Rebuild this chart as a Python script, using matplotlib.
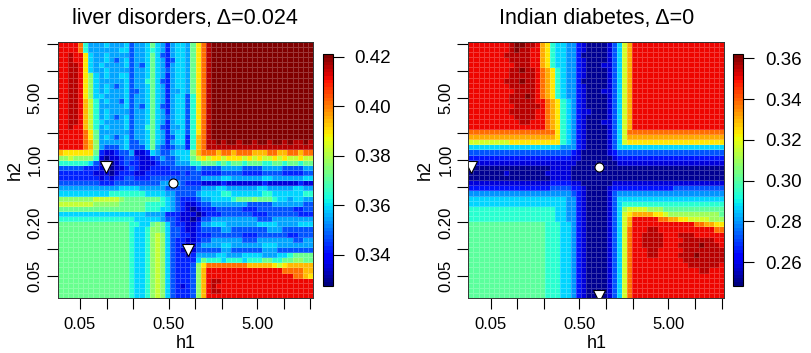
"""Two bandwidth-grid heatmaps (h1 vs h2) with jet colour scale."""

import numpy as np
import matplotlib

matplotlib.use("Agg")
import matplotlib.pyplot as plt
from matplotlib.ticker import NullLocator

plt.rcParams["font.family"] = ["Liberation Sans", "DejaVu Sans"]

# bandwidth grid: 50 log-spaced values from 0.03 to 20 on both axes
H_MIN, H_MAX, N_GRID = 0.03, 20.0, 50

TICK_POS = [0.05, 0.1, 0.2, 0.5, 1, 2, 5, 10, 20]
X_TICK_LABELS = ["0.05", "", "", "0.50", "", "", "5.00", "", ""]
Y_TICK_LABELS = ["0.05", "", "0.20", "", "1.00", "", "5.00", "", ""]

# ---- liver disorders ----
LIVER_TITLE = "liver disorders, \u0394=0.024"
LIVER_ZLIM = [0.3276, 0.4210]
LIVER_CBAR_TICKS = [0.34, 0.36, 0.38, 0.40, 0.42]
# value of each hex code 0..F
LIVER_LEVELS = [0.3305, 0.3363, 0.3422, 0.3480, 0.3539, 0.3597, 0.3655, 0.3714,
                0.3772, 0.3830, 0.3889, 0.3947, 0.4006, 0.4117, 0.4154, 0.4196]
# rows from largest h2 (top) to smallest, columns from smallest h1 to largest
LIVER_ROWS = [
    "DDDDC644" "45444534457542455" "47A" "CEFFFFFFFFFFFFFFFFFFFF",
    "DDDDC644" "44445534456542455" "47A" "CEFFFFFFFFFFFFFFFFFFFF",
    "DDEDDA54" "45444434457532455" "47A" "CEFFFFFFFFFFFFFFFFFFFF",
    "DDEDDA54" "45434534457542355" "47A" "CEFFFFFFFFFFFFFFFFFFFF",
    "DDEEDA54" "54444534357542455" "47A" "CEFFFFFFFFFFFFFFFFFFFF",
    "DDEEDA54" "45444434457543455" "47A" "CEFFFFFFFFFFFFFFFFFFFF",
    "DDEEDA85" "45445534457542455" "47A" "CEFFFFFFFFFFFFFFFFFFFF",
    "DDEEDA85" "44444534467532455" "47A" "CEFFFFFFFFFFFFFFFFFFFF",
    "DDEEDA85" "45434534457542455" "47A" "CEFFFFFFFFFFFFFFFFFFFF",
    "DDEEDA85" "45444533457542445" "47A" "CEFFFFFFFFFFFFFFFFFFFF",
    "DDEEDA85" "54444534457542455" "36A" "CEFFFFFFFFFFFFFFFFFFFF",
    "DDEEDB96" "45443534457542455" "36A" "CEFFFFFFFFFFFFFFFFFFFF",
    "DDEEDB96" "44444534357532455" "36A" "CEFFFFFFFFFFFFFFFFFFFF",
    "DDEEDB96" "45444434457542455" "36A" "CEFFFFFFFFFFFFFFFFFFFF",
    "DDEEDB96" "45434534457543455" "36A" "CEFFFFFFFFFFFFFFFFFFFF",
    "DDEEDB96" "54444534457542455" "36A" "CEFFFFFFFFFFFFFFFFFFFF",
    "DDEDDB96" "45444534467532445" "36A" "CEFFFFFFFFFFFFFFFFFFFF",
    "DDDDDCA7" "44444434457542455" "36A" "CEFFFFFFFFFFFFFFFFFFFF",
    "DDDDDCA7" "45434534457542355" "26B" "CEFFFFFFFFFFFFFFFFFFFF",
    "DDDDDCB8" "44444533457542455" "26B" "CEEFEFFEFFEFFEFFEFEEFE",
    "DDDDDCB8" "43334533357432344" "26B" "CEEEEEEEEEEEEEEEEEEEEE",
    "BAAAAAA7" "21123341125433455" "58B" "CCCBCCBCCCBBBCCBBCCBCC",
    "88988886" "10112332112343345" "579" "A9AA9AAA9A9A99A9A99A99",
    "66666653" "10012322111233344" "466" "7776767767776677677677",
    "33333222" "10011232112222333" "334" "3333444433334444333344",
    "22222221" "11012221122222223" "233" "2222333322223333222233",
    "22222222" "12122332223333333" "333" "4444554444445544444455",
    "33333333" "22233333333344443" "222" "1111211111112111111211",
    "44444444" "44445555444443333" "333" "4445544444455444445544",
    "55555555" "55666666655554433" "334" "5555665555556655555566",
    "88888889" "99998777777765432" "223" "4455556777877765545544",
    "99999998" "88887777766665432" "112" "3344444443333344444433",
    "77777777" "77777777766655432" "101" "2223333322233333332233",
    "55555555" "55555555544442221" "110" "1222333333222333333222",
    "66666666" "66666665555543321" "101" "3344444444433344444444",
    "77777777" "77777766557875322" "112" "4455544444455554444555",
    "77777777" "77777765568875332" "112" "3333443333333444333333",
    "77777777" "77777765568985332" "212" "2233333322233333322333",
    "77777777" "77777765568985322" "112" "3344444433344444443344",
    "77777777" "77777765568985322" "113" "4444554444445554444444",
    "77777777" "77777765568985321" "113" "3333443333334443333333",
    "77777777" "77777765568985322" "124" "4445544455554445567777",
    "77777777" "77777765568985322" "225" "7666566656667766778877",
    "77777777" "77777765568985322" "238" "ACCCCCCCCBBBBBA9ABBBBB",
    "77777777" "77777765568985322" "238" "BDDDDDDDDDDDDDDDCCCCBB",
    "77777777" "77777765568985322" "238" "BDDDDDDDDDDDDDDDDDCCBA",
    "77777777" "77777765568985322" "238" "BDEEDDDDDDDDDDDDDDDDDD",
    "77777777" "77777765568985321" "238" "BDEDDDDDDDDDDDDDDDDDDD",
    "77777777" "77777765568985322" "238" "BDEEDDDDDDDDDDDDDDDDDD",
    "77777777" "77777765568985322" "238" "BDDDDDDDDDDDDDDDDDDDDD",
]
LIVER_TRI_H1 = [0.0989, 0.826]
LIVER_TRI_H2 = [0.826, 0.0989]
LIVER_DOT_H1 = [0.556]
LIVER_DOT_H2 = [0.556]

# ---- Indian diabetes ----
DIAB_TITLE = "Indian diabetes, \u0394=0"
DIAB_ZLIM = [0.2485, 0.3620]
DIAB_CBAR_TICKS = [0.26, 0.28, 0.30, 0.32, 0.34, 0.36]
DIAB_LEVELS = [0.2520, 0.2591, 0.2662, 0.2733, 0.2804, 0.2875, 0.2946, 0.3017,
               0.3088, 0.3159, 0.3230, 0.3301, 0.3372, 0.3507, 0.3552, 0.3603]
DIAB_ROWS = [
    "DDDDDDDDEFFEED" "BA65544" "21000013" "59B" "DDDDDDDDDDDDDDDDDD",
    "DDDDDDDDEFEEDD" "BA65544" "21000013" "59B" "DDDDDDDDDDDDDDDDDD",
    "DDDDDDDEEEEEDD" "BA65544" "20000013" "59B" "DDDDDDDDDDDDDDDDDD",
    "DDDDDDDDEEEEDD" "BA65544" "21000013" "59B" "DDDDDDDDDDDDDDDDDD",
    "DDDDDDDDDEEEDD" "BA65544" "21000113" "59B" "DDDDDDDDDDDDDDDDDD",
    "DDDDDDDDEEFEED" "CBA6544" "21000013" "59B" "DDDDDDDDDDDDDDDDDD",
    "DDDDDDDDEEEEED" "CBA6544" "21000013" "59B" "DDDDDDDDDDDDDDDDDD",
    "DDDDDDDEEEFEED" "CBA6544" "20000013" "59B" "DDDDDDDDDDDDDDDDDD",
    "DDDDDDDDEEEEED" "CBA6544" "21000013" "59B" "DDDDDDDDDDDDDDDDDD",
    "DDDDDDDDDEEEED" "CBA6544" "21000113" "59B" "DDDDDDDDDDDDDDDDDD",
    "DDDDDDDDEEEFED" "CBA6544" "21000013" "59B" "DDDDDDDDDDDDDDDDDD",
    "DDDDDDDDEEEEED" "DCBA654" "21000013" "59B" "DDDDDDDDDDDDDDDDDD",
    "DDDDDDDDDEEEEE" "DCBA654" "21000013" "59B" "DDDDDDDDDDDDDDDDDD",
    "DDDDDDDDEEEEED" "DCBA654" "21100013" "59B" "DDDDDDDDDDDDDDDDDD",
    "DDDDDDDDDEEEED" "DCBA654" "21000013" "59B" "DDDDDDDDDDDDDDDDDD",
    "DDDDDDDDDDEEDD" "DCBA654" "21000113" "59B" "DDDDDDDDDDDDDDDDDD",
    "DDDDDDDDDDDDDD" "DCBA654" "21000013" "59B" "DDDDDDDDDDDDDDDDDD",
    "CCCCCCCCCCCCCC" "CCCA654" "21000013" "59C" "CCCCCCCCCCCCCCCCCC",
    "BBBBBBBBBBBBBB" "BBBA654" "21000013" "59B" "BBBBBBBBBBBBBBBBBB",
    "99999999AAAAAA" "AAAA654" "21000013" "59A" "AAAAAAAAAAAAAAAAAA",
    "55555555555555" "5555444" "21000013" "555" "555555555555555555",
    "33333333333333" "3333332" "10000012" "333" "333333333333333333",
    "22222222222222" "2222221" "10000001" "222" "222222222222222222",
    "11111111111111" "1111111" "00000000" "111" "111111111111111111",
    "00000000000000" "0011110" "00000000" "000" "000000000000000000",
    "00000001000000" "0111110" "00000000" "000" "000000000000000000",
    "00000000000000" "0011110" "00000000" "000" "000000000000000000",
    "11111111111111" "1122221" "10000001" "111" "111111111111111111",
    "22222222222222" "2233332" "21000012" "222" "222222223333333333",
    "44444444444444" "4444443" "21000013" "444" "444444444444444444",
    "55555555555555" "5555544" "21000013" "555" "555555555555555555",
    "55555555555555" "5555544" "21000013" "566" "666666666666666666",
    "66666666666666" "6665544" "21000013" "589" "999888777777777777",
    "66666666666666" "6665544" "21000013" "59A" "BBBBAA988888888887",
    "66666666666666" "6665544" "21000013" "59B" "DDDDDCCBBAA9999888",
    "77777777777777" "7666554" "21000013" "59B" "DDDDDDDDDDDDCCBBAA",
    "77777777777777" "7666554" "21000013" "59C" "DDDEEDDDDDDDDDDDCC",
    "77777777777777" "7666554" "21000013" "59C" "DDEEEEDDDEEEDDDDDD",
    "77777777777777" "7666554" "21000013" "59C" "DDEEEEDDDDEEEEEEDD",
    "77777777777777" "7666554" "21000013" "59C" "DDEEEEDDDEEEEFEEED",
    "77777777777777" "7666554" "21000013" "59C" "DDDEEDDDDDEEEEEEEE",
    "77777777777777" "7666554" "21000013" "59C" "DDDEEDDDDEEEFEEEEE",
    "77777777777777" "7666554" "21000013" "59C" "DDDDDDDDDDEEEEEEEE",
    "77777777777777" "7666554" "21000013" "59C" "DDDDDDDDDDDEEEEEED",
    "77777777777777" "7666554" "21000013" "59C" "DDDDDDDDDDDDDEEDDD",
    "77777777777777" "7666554" "21000013" "59C" "DDDDDDDDDDDDDDDDDD",
    "77777777777777" "7666554" "21000013" "59C" "DDDDDDDDDDDDDDDDDD",
    "77777777777777" "7666554" "21000013" "59C" "DDDDDDDDDDDDDDDDDD",
    "77777777777777" "7666554" "21000013" "59C" "DDDDDDDDDDDDDDDDDD",
    "77777777777777" "7666554" "21000013" "59C" "DDDDDDDDDDDDDDDDDD",
]
DIAB_TRI_H1 = [0.03, 0.826]
DIAB_TRI_H2 = [0.826, 0.03]
DIAB_DOT_H1 = [0.826]
DIAB_DOT_H2 = [0.826]


def decode(rows, levels):
    """Turn hex-coded rows into a value matrix (bottom row first)."""
    for i, row in enumerate(rows):
        assert len(row) == N_GRID, (i, len(row))
    grid = np.array([[levels[int(ch, 16)] for ch in row] for row in rows])
    return grid[::-1]


def grid_edges():
    lo, hi = np.log10(H_MIN), np.log10(H_MAX)
    step = (hi - lo) / (N_GRID - 1)
    return 10 ** (lo - step / 2 + step * np.arange(N_GRID + 1))


def draw_panel(fig, ax_rect, cb_rect, title, rows, levels, zlim, cbar_ticks,
               tri_h1, tri_h2, dot_h1, dot_h2):
    axis = fig.add_axes(ax_rect)
    cax = fig.add_axes(cb_rect)
    edges = grid_edges()
    values = decode(rows, levels)
    cmap = plt.get_cmap("jet", 64)

    mesh = axis.pcolormesh(edges, edges, values, cmap=cmap, vmin=zlim[0], vmax=zlim[1],
                           edgecolors=(1, 1, 1, 0.22), linewidth=0.4)

    axis.plot(tri_h1, tri_h2, "v", ms=9, mfc="white", mec="black", mew=0.8)
    axis.plot(dot_h1, dot_h2, "o", ms=6.5, mfc="white", mec="black", mew=0.8)

    axis.set_xscale("log")
    axis.set_yscale("log")
    axis.set_xlim(edges[0], edges[-1])
    axis.set_ylim(edges[0], edges[-1])
    axis.set_xticks(TICK_POS)
    axis.set_xticklabels(X_TICK_LABELS)
    axis.set_yticks(TICK_POS)
    axis.set_yticklabels(Y_TICK_LABELS, rotation=90, va="center")
    axis.xaxis.set_minor_locator(NullLocator())
    axis.yaxis.set_minor_locator(NullLocator())
    axis.tick_params(direction="out", length=7.8, width=0.8, labelsize=12)
    axis.tick_params(axis="x", pad=6)
    axis.tick_params(axis="y", pad=3)
    for spine in axis.spines.values():
        spine.set_linewidth(0.7)
        spine.set_color("#333333")

    axis.set_title(title, fontsize=15.5, pad=13)
    axis.set_xlabel("h1", fontsize=13, labelpad=2)
    axis.set_ylabel("h2", fontsize=13, labelpad=3)

    cbar = fig.colorbar(mesh, cax=cax, ticks=cbar_ticks)
    cbar.ax.set_yticklabels([f"{t:.2f}" for t in cbar_ticks])
    cbar.ax.tick_params(length=7.7, width=0.8, labelsize=13.5, pad=8)
    cbar.outline.set_linewidth(0.8)


fig = plt.figure(figsize=(8.12, 3.53), dpi=100)

draw_panel(fig, [0.0711, 0.155, 0.3144, 0.727], [0.3974, 0.1907, 0.0123, 0.6555],
           LIVER_TITLE, LIVER_ROWS, LIVER_LEVELS, LIVER_ZLIM, LIVER_CBAR_TICKS,
           LIVER_TRI_H1, LIVER_TRI_H2, LIVER_DOT_H1, LIVER_DOT_H2)
draw_panel(fig, [0.5767, 0.155, 0.3153, 0.727], [0.9023, 0.1907, 0.0131, 0.6555],
           DIAB_TITLE, DIAB_ROWS, DIAB_LEVELS, DIAB_ZLIM, DIAB_CBAR_TICKS,
           DIAB_TRI_H1, DIAB_TRI_H2, DIAB_DOT_H1, DIAB_DOT_H2)

fig.savefig("out.png", dpi=100)
